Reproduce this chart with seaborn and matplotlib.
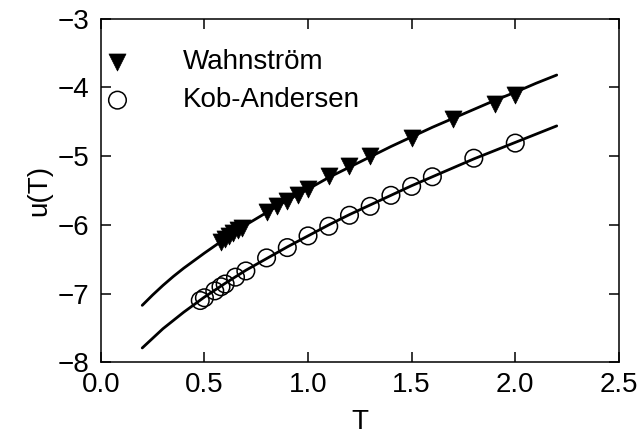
import matplotlib
matplotlib.use("Agg")
import matplotlib.pyplot as plt
import seaborn as sns
import pandas as pd

# Wahnstrom data (triangles)
wahn_T = [0.58, 0.60, 0.62, 0.64, 0.66, 0.68, 0.80, 0.85, 0.90, 0.95,
          1.00, 1.10, 1.20, 1.30, 1.50, 1.70, 1.90, 2.00]
wahn_u = [-6.25, -6.20, -6.16, -6.12, -6.08, -6.05, -5.81, -5.73, -5.65, -5.56,
          -5.48, -5.29, -5.14, -5.00, -4.73, -4.46, -4.24, -4.11]

# Kob-Andersen data (open circles)
ka_T = [0.48, 0.50, 0.55, 0.58, 0.60, 0.65, 0.70, 0.80, 0.90, 1.00,
        1.10, 1.20, 1.30, 1.40, 1.50, 1.60, 1.80, 2.00]
ka_u = [-7.10, -7.06, -6.96, -6.90, -6.86, -6.76, -6.67, -6.48, -6.33, -6.16,
        -6.02, -5.86, -5.73, -5.57, -5.44, -5.30, -5.03, -4.81]

# fitted curves
fit_T = [0.2, 0.25, 0.3, 0.35, 0.4, 0.45, 0.5, 0.6, 0.7, 0.8, 0.9, 1.0, 1.1, 1.2,
         1.3, 1.4, 1.5, 1.6, 1.7, 1.8, 1.9, 2.0, 2.1, 2.2]
wahn_fit = [-7.17, -7.02, -6.88, -6.75, -6.63, -6.52, -6.41, -6.20, -6.00, -5.82,
            -5.64, -5.48, -5.31, -5.16, -5.01, -4.86, -4.72, -4.58, -4.45, -4.32,
            -4.19, -4.07, -3.94, -3.82]
ka_fit = [-7.79, -7.65, -7.51, -7.39, -7.27, -7.16, -7.05, -6.85, -6.66, -6.49,
          -6.32, -6.16, -6.00, -5.85, -5.71, -5.57, -5.43, -5.30, -5.17, -5.04,
          -4.92, -4.80, -4.68, -4.56]


def main():
    sns.set_style("ticks")
    plt.rcParams["font.family"] = ["Liberation Sans", "DejaVu Sans"]
    for key in ["text.color", "axes.labelcolor", "xtick.color", "ytick.color",
                "axes.edgecolor"]:
        plt.rcParams[key] = "black"

    wahn = pd.DataFrame({"T": wahn_T, "u": wahn_u})
    ka = pd.DataFrame({"T": ka_T, "u": ka_u})
    fits = pd.DataFrame({"T": fit_T + fit_T,
                         "u": wahn_fit + ka_fit,
                         "set": ["W"] * len(fit_T) + ["KA"] * len(fit_T)})

    fig = plt.figure(figsize=(6.42, 4.34), dpi=100)
    ax = fig.add_axes([0.157, 0.165, 0.807, 0.792])

    sns.scatterplot(x="T", y="u", data=wahn, ax=ax, marker="v", s=150,
                    color="black", edgecolor="black", linewidth=0.5,
                    label="Wahnström", zorder=2)
    sns.scatterplot(x="T", y="u", data=ka, ax=ax, marker="o", s=160,
                    facecolor="none", edgecolor="black", linewidth=1.1,
                    label="Kob-Andersen", zorder=2)
    sns.lineplot(x="T", y="u", units="set", estimator=None, data=fits, ax=ax,
                 color="black", linewidth=2.0, legend=False, zorder=3)

    ax.set_xlim(0, 2.5)
    ax.set_ylim(-8, -3)
    ax.set_xticks([0.0, 0.5, 1.0, 1.5, 2.0, 2.5])
    ax.set_xticklabels(["0.0", "0.5", "1.0", "1.5", "2.0", "2.5"])
    ax.set_yticks([-8, -7, -6, -5, -4, -3])
    ax.set_xlabel("T", fontsize=20, labelpad=8)
    ax.set_ylabel("u(T)", fontsize=20, labelpad=4)
    ax.tick_params(axis="both", which="major", labelsize=20, direction="in",
                   length=7, width=1.1, top=True, right=True)
    ax.tick_params(axis="x", pad=7)
    ax.tick_params(axis="y", pad=8)
    for sp in ax.spines.values():
        sp.set_linewidth(1.1)
        sp.set_visible(True)

    ax.legend(loc="upper left", frameon=False, fontsize=20, handlelength=1.0,
              handletextpad=1.85, borderaxespad=0.0, borderpad=0.1,
              labelspacing=0.45, bbox_to_anchor=(0.0, 0.92))

    fig.savefig("out.png", dpi=100)


if __name__ == "__main__":
    main()
